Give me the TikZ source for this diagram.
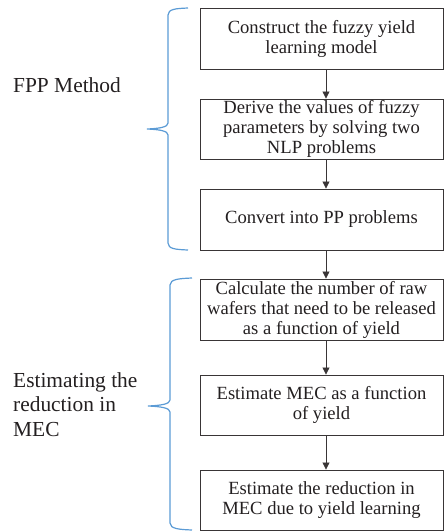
\documentclass[tikz,border=0pt]{standalone}
\usepackage{fontspec}
\setmainfont{Liberation Serif}
\usetikzlibrary{arrows.meta}
\definecolor{bracecol}{RGB}{91,155,213}
\definecolor{ink}{RGB}{35,31,32}
\begin{document}
\begin{tikzpicture}[x=1pt,y=-1pt,
  stepbox/.style={draw=ink!90, line width=0.9pt, text=ink, minimum width=243pt,
    inner sep=0pt, align=center, font=\fontsize{18.6}{20}\selectfont},
  arr/.style={draw=ink!90, line width=0.8pt, -{Triangle[width=7pt,length=7pt]}},
  brace/.style={draw=bracecol, line width=1.2pt},
  sidelabel/.style={text=ink, inner sep=0pt, align=left, anchor=base west,
    font=\fontsize{21.4}{24.5}\selectfont}]
\useasboundingbox (0,0) rectangle (444,531);

% process steps
\node[stepbox, minimum height=61pt] (b1) at (321.5,38.5) {Construct the fuzzy yield\\learning model};
\node[stepbox, minimum height=60pt] (b2) at (321.5,129) {Derive the values of fuzzy\\parameters by solving two\\NLP problems};
\node[stepbox, minimum height=61pt] (b3) at (321.5,219.5) {Convert into PP problems};
\node[stepbox, minimum height=61pt] (b4) at (321.5,309.5) {Calculate the number of raw\\wafers that need to be released\\as a function of yield};
\node[stepbox, minimum height=60pt] (b5) at (321.5,405) {Estimate MEC as a function\\of yield};
\node[stepbox, minimum height=60pt] (b6) at (321.5,500) {Estimate the reduction in\\MEC due to yield learning};

% connectors run on a common vertical line
\coordinate (ax) at (326,0);
\draw[arr] (b1.south -| ax) -- (b2.north -| ax);
\draw[arr] (b2.south -| ax) -- (b3.north -| ax);
\draw[arr] (b3.south -| ax) -- (b4.north -| ax);
\draw[arr] (b4.south -| ax) -- (b5.north -| ax);
\draw[arr] (b5.south -| ax) -- (b6.north -| ax);

% group braces
\draw[brace] (188,8) .. controls (176,8.5) and (168,9) .. (168,15)
  -- (168,123) .. controls (168,127) and (160,128.5) .. (147,129)
  .. controls (160,129.5) and (168,131) .. (168,135)
  -- (168,243) .. controls (168,249) and (176,249.5) .. (188,250);
\draw[brace] (192,278) .. controls (180,278.5) and (170,279) .. (170,285)
  -- (170,400) .. controls (170,404) and (161,405.5) .. (148,406)
  .. controls (161,406.5) and (170,408) .. (170,412)
  -- (170,523) .. controls (170,529) and (180,529.5) .. (192,530);

% group labels (base anchor sits on the last line)
\node[sidelabel] (l1) at (13,92) {FPP Method};
\node[sidelabel] (l2) at (13,436) {Estimating the\\reduction in\\MEC};
\end{tikzpicture}
\end{document}
